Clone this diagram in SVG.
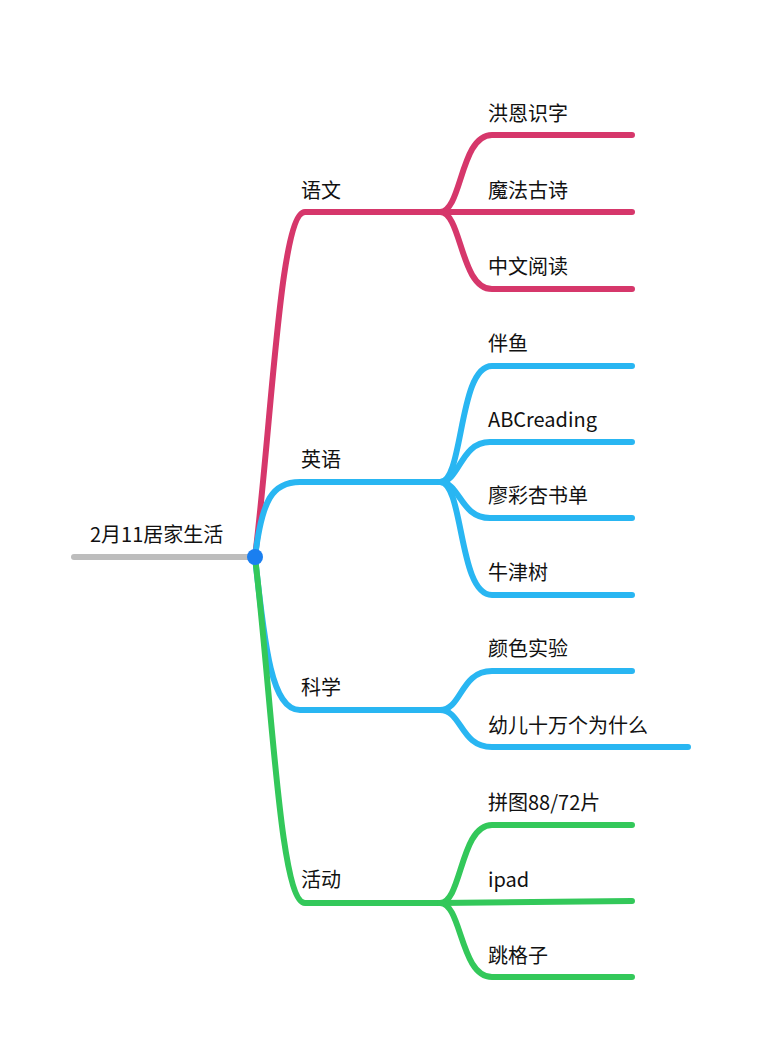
<svg xmlns="http://www.w3.org/2000/svg" width="761" height="1053" viewBox="0 0 761 1053">
<style>
text{font-family:"Noto Sans CJK SC","Liberation Sans",sans-serif;font-size:20px;fill:#111}
.l{fill:none;stroke-width:6;stroke-linecap:round}
.p{stroke:#d6376b}.b{stroke:#29b6f2}.g{stroke:#33c85a}
</style>
<rect width="761" height="1053" fill="#fff"/>
<g id="connectors">
<path class="l" d="M74,557 L255,557" stroke="#bdbdbd"/>
<path class="l p" d="M255,557 C272,420 280,212 305,212 L440,212"/>
<path class="l p" d="M440,212 C462,212 460,135 492,135 L632,135"/>
<path class="l p" d="M440,212 L632,212"/>
<path class="l p" d="M440,212 C462,212 460,289 492,289 L632,289"/>
<path class="l b" d="M255,557 C262,500 272,482 300,482 L440,482"/>
<path class="l b" d="M440,482 C464,482 458,366 492,366 L632,366"/>
<path class="l b" d="M440,482 C460,482 460,442 490,442 L632,442"/>
<path class="l b" d="M440,482 C460,482 460,518 490,518 L632,518"/>
<path class="l b" d="M440,482 C464,482 458,595 492,595 L632,595"/>
<path class="l b" d="M255,557 C265,650 272,710 300,710 L440,710"/>
<path class="l b" d="M440,710 C462,710 460,671 492,671 L632,671"/>
<path class="l b" d="M440,710 C462,710 460,747 492,747 L688,747"/>
<path class="l g" d="M255,557 C272,700 280,903 305,903 L440,903"/>
<path class="l g" d="M440,903 C462,903 460,825 492,825 L632,825"/>
<path class="l g" d="M440,903 L632,901"/>
<path class="l g" d="M440,903 C462,903 460,977 492,977 L632,977"/>
</g>
<g id="root"><text x="90" y="542">2月11居家生活</text><circle cx="255" cy="557" r="8" fill="#1a7ff0"/></g>
<g id="n-yuwen"><text x="301" y="198">语文</text></g>
<g id="n1"><text x="488" y="121">洪恩识字</text></g>
<g id="n2"><text x="488" y="198">魔法古诗</text></g>
<g id="n3"><text x="488" y="274">中文阅读</text></g>
<g id="n-yingyu"><text x="301" y="467">英语</text></g>
<g id="n4"><text x="488" y="351">伴鱼</text></g>
<g id="n5"><text x="488" y="427">ABCreading</text></g>
<g id="n6"><text x="488" y="503">廖彩杏书单</text></g>
<g id="n7"><text x="488" y="580">牛津树</text></g>
<g id="n-kexue"><text x="301" y="695">科学</text></g>
<g id="n8"><text x="488" y="656">颜色实验</text></g>
<g id="n9"><text x="488" y="733">幼儿十万个为什么</text></g>
<g id="n-huodong"><text x="301" y="887">活动</text></g>
<g id="n10"><text x="488" y="810">拼图88/72片</text></g>
<g id="n11"><text x="488" y="887">ipad</text></g>
<g id="n12"><text x="488" y="963">跳格子</text></g>
</svg>
